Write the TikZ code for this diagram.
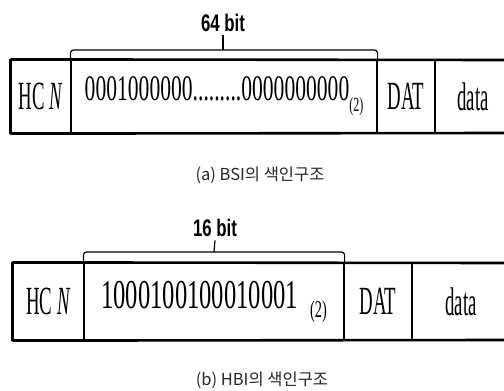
\documentclass[tikz,border=0pt]{standalone}
\usepackage{fontspec}
\setmainfont{Liberation Serif}
\newfontfamily\cellfont[FakeStretch=0.47]{Liberation Serif}
\newfontfamily\bitfont[FakeStretch=0.6]{Liberation Serif}
\newfontfamily\labfont[FakeStretch=0.7]{Liberation Sans}
\newfontfamily\cjk{Noto Sans CJK KR}
\usetikzlibrary{positioning}

\tikzset{
  cell/.style={draw, line width=1.2pt, inner sep=0pt,
    font=\cellfont\fontsize{40}{40}\selectfont},
  plain/.style={inner sep=0pt, font=\cellfont\fontsize{40}{40}\selectfont},
  rim/.style={line width=2.6pt},
  brace/.style={line width=1.2pt, rounded corners=3pt},
  lab/.style={font=\labfont\bfseries\fontsize{24}{24}\selectfont},
  captext/.style={font=\cjk\fontsize{16.5}{16.5}\selectfont, text=black!85}
}

\begin{document}
\begin{tikzpicture}[x=1pt, y=-1pt]
  \useasboundingbox (0,0) rectangle (504,391);

  % (a) BSI
  \node[cell, minimum width=60pt, minimum height=73pt] (hcA) at (41,96.5) {HC \textit{N}};
  \node[cell, minimum width=306pt, minimum height=73pt] (bitsA) at (224,96.5)
    {\bitfont\fontsize{36}{36}\selectfont 0001000000.........0000000000\raisebox{-11pt}{\fontsize{20}{20}\selectfont(2)}};
  \node[cell, minimum width=58pt, minimum height=73pt] (datA) at (406,96.5) {DAT};
  \node[plain] (dataA) at (473,96.5) {data};
  \coordinate (endAt) at (504,60);
  \coordinate (endAb) at (504,133);
  \draw[rim] (hcA.north west) -- (endAt);
  \draw[rim] (hcA.south west) -- (endAb);
  \draw[line width=2pt] (hcA.north west) -- (hcA.south west);

  \node[lab] (bitA) at (223,23) {64 bit};
  \coordinate (tickA) at (223,50);
  \draw[brace] (bitsA.north west) |- (tickA) -| (bitsA.north east);
  \draw[line width=1.2pt] (tickA) -- (bitA.south);

  \node[captext] (capA) at (260,175) {(a) BSI의 색인구조};

  % (b) HBI
  \node[cell, minimum width=71pt, minimum height=77pt] (hcB) at (48.5,301.5) {HC \textit{N}};
  \node[cell, minimum width=260pt, minimum height=77pt] (bitsB) at (214,301.5)
    {\bitfont\fontsize{41}{41}\selectfont 1000100100010001\hspace{12pt}\raisebox{-9pt}{\fontsize{24}{24}\selectfont(2)}};
  \node[cell, minimum width=68pt, minimum height=77pt] (datB) at (378,301.5) {DAT};
  \node[plain] (dataB) at (461,301.5) {data};
  \coordinate (endBt) at (504,263);
  \coordinate (endBb) at (504,340);
  \draw[rim] (hcB.north west) -- (endBt);
  \draw[rim] (hcB.south west) -- (endBb);
  \draw[line width=2pt] (hcB.north west) -- (hcB.south west);

  \node[lab] (bitB) at (215,228) {16 bit};
  \coordinate (tickB) at (214,252);
  \draw[brace] (bitsB.north west) |- (tickB) -| (bitsB.north east);
  \draw[line width=1.2pt] (tickB) -- (bitB.south);

  \node[captext] (capB) at (262,380) {(b) HBI의 색인구조};
\end{tikzpicture}
\end{document}
